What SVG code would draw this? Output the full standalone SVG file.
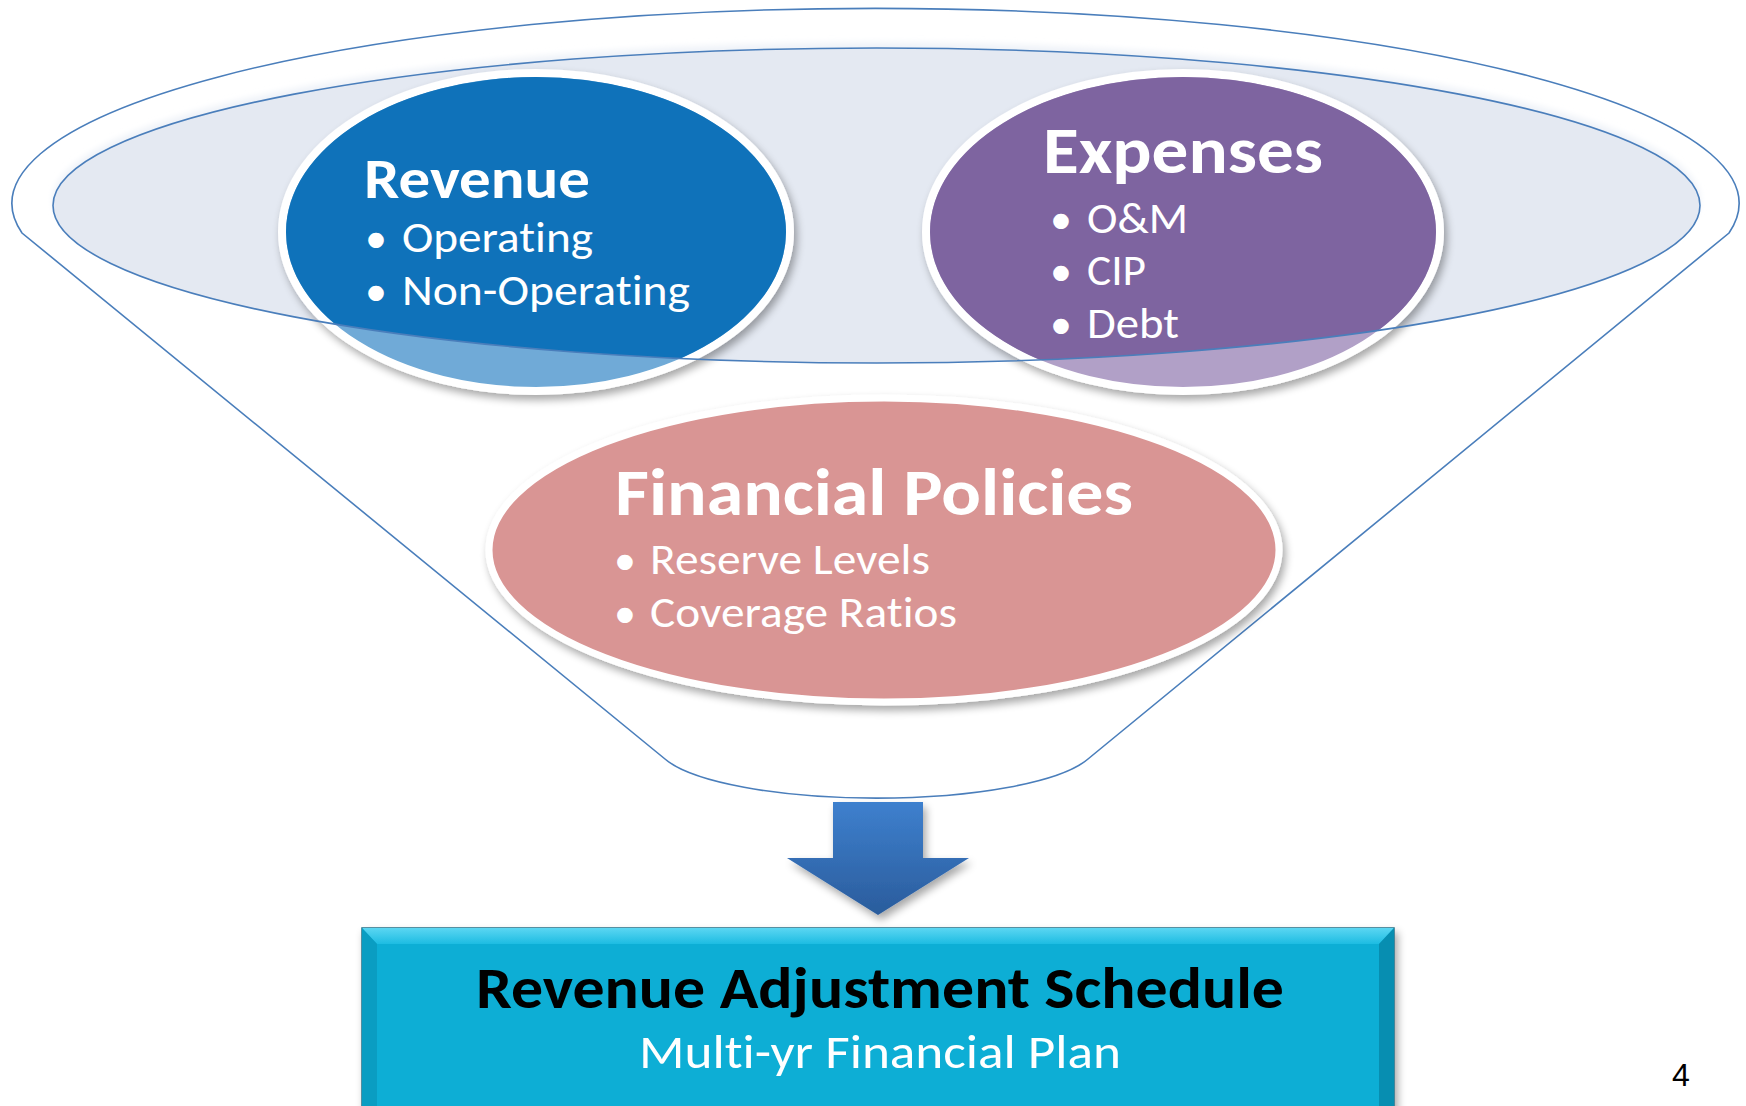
<svg xmlns="http://www.w3.org/2000/svg" width="1746" height="1106" viewBox="0 0 1746 1106">
  <style>
    text { font-variant-ligatures: none; font-feature-settings: "liga" 0, "dlig" 0; }
    .funnel { fill: none; stroke: #4A7EBB; stroke-width: 1.6; }
    .ring { stroke: #FFFFFF; stroke-width: 8; }
    .title { font-family: Carlito, Lato, "Liberation Sans", sans-serif; font-weight: 700; fill: #FFFFFF; }
    .item { font-family: Carlito, Lato, "Liberation Sans", sans-serif; font-weight: 400; fill: #FFFFFF; font-size: 43px; }
    .dot { font-family: Carlito, Lato, "Liberation Sans", sans-serif; font-weight: 400; fill: #FFFFFF; font-size: 44px; }
    .boxTitle { font-family: Carlito, Lato, "Liberation Sans", sans-serif; font-weight: 700; fill: #000000; font-size: 58px; }
    .boxSub { font-family: Carlito, Lato, "Liberation Sans", sans-serif; font-weight: 400; fill: #FFFFFF; font-size: 48px; }
    .page { font-family: "Liberation Sans", Arial, sans-serif; font-size: 32px; fill: #000000; }
  </style>
  <defs>
    <filter id="shadow" x="-10%" y="-10%" width="125%" height="130%">
      <feGaussianBlur in="SourceAlpha" stdDeviation="4"/>
      <feOffset dx="3" dy="5" result="blur"/>
      <feComponentTransfer><feFuncA type="linear" slope="0.35"/></feComponentTransfer>
      <feMerge><feMergeNode/><feMergeNode in="SourceGraphic"/></feMerge>
    </filter>
    <filter id="soft" x="-5%" y="-20%" width="110%" height="140%">
      <feGaussianBlur stdDeviation="3"/>
    </filter>
    <clipPath id="mouth">
      <ellipse cx="876.5" cy="205.5" rx="823.5" ry="157.5"/>
    </clipPath>
    <linearGradient id="arrowFill" x1="0" y1="0" x2="0" y2="1">
      <stop offset="0" stop-color="#3E80CE"/>
      <stop offset="1" stop-color="#2A5C9C"/>
    </linearGradient>
    <linearGradient id="bevelTop" x1="0" y1="0" x2="0" y2="1">
      <stop offset="0" stop-color="#5BD6F2"/>
      <stop offset="1" stop-color="#1DBCE2"/>
    </linearGradient>
  </defs>

  <rect width="1746" height="1106" fill="#FFFFFF"/>

  <!-- funnel body: rim arc, tapered sides and the spout -->
  <g id="funnel">
    <path class="funnel" d="M 665,759 L 22,233 A 863.5 195 0 1 1 1729,233 L 1088,759 A 220 54 0 0 1 665,759 Z"/>
    <ellipse cx="876.5" cy="200" rx="823.5" ry="157.5" fill="#EEF2F8" filter="url(#soft)"/>
    <ellipse cx="876.5" cy="205.5" rx="823.5" ry="157.5" fill="#E4E9F2"/>
  </g>

  <!-- Revenue -->
  <g id="revenue">
    <ellipse class="ring" cx="536" cy="232" rx="254" ry="159" fill="#6FAAD7" filter="url(#shadow)"/>
    <ellipse cx="536" cy="232" rx="250" ry="155" fill="#0F72BA" clip-path="url(#mouth)"/>
    <text class="title" x="364" y="198" font-size="57" textLength="226" lengthAdjust="spacingAndGlyphs">Revenue</text>
    <text class="dot" x="365" y="253">•</text>
    <text class="item" x="402" y="252" textLength="191" lengthAdjust="spacingAndGlyphs">Operating</text>
    <text class="dot" x="365" y="306">•</text>
    <text class="item" x="402" y="305" textLength="288" lengthAdjust="spacingAndGlyphs">Non-Operating</text>
  </g>

  <!-- Expenses -->
  <g id="expenses">
    <ellipse class="ring" cx="1183" cy="232" rx="257" ry="159" fill="#B1A0C7" filter="url(#shadow)"/>
    <ellipse cx="1183" cy="232" rx="253" ry="155" fill="#7E64A0" clip-path="url(#mouth)"/>
    <text class="title" x="1043" y="173" font-size="67" textLength="280" lengthAdjust="spacingAndGlyphs">Expenses</text>
    <text class="dot" x="1050" y="234">•</text>
    <text class="item" x="1087" y="233" textLength="101" lengthAdjust="spacingAndGlyphs">O&amp;M</text>
    <text class="dot" x="1050" y="286">•</text>
    <text class="item" x="1087" y="285" textLength="59" lengthAdjust="spacingAndGlyphs">CIP</text>
    <text class="dot" x="1050" y="339">•</text>
    <text class="item" x="1087" y="338" textLength="92" lengthAdjust="spacingAndGlyphs">Debt</text>
  </g>

  <!-- rim line of the funnel mouth, drawn over the two circles -->
  <g id="rim">
    <ellipse class="funnel" cx="876.5" cy="205.5" rx="823.5" ry="157.5"/>
  </g>

  <!-- Financial Policies -->
  <g id="financial-policies">
    <ellipse cx="884" cy="550" rx="395" ry="152" fill="#D99594" stroke="#FFFFFF" stroke-width="7" filter="url(#shadow)"/>
    <text class="title" x="615" y="515" font-size="67" textLength="518" lengthAdjust="spacingAndGlyphs">Financial Policies</text>
    <text class="dot" x="614" y="575">•</text>
    <text class="item" x="650" y="574" textLength="280" lengthAdjust="spacingAndGlyphs">Reserve Levels</text>
    <text class="dot" x="614" y="628">•</text>
    <text class="item" x="650" y="627" textLength="307" lengthAdjust="spacingAndGlyphs">Coverage Ratios</text>
  </g>

  <!-- flow arrow -->
  <g id="connectors">
    <polygon points="833,802 923,802 923,858 969,858 878,915 787,858 833,858" fill="url(#arrowFill)" filter="url(#shadow)"/>
  </g>

  <!-- Revenue Adjustment Schedule box -->
  <g id="schedule">
    <rect x="362" y="928" width="1032" height="190" fill="#07AED5" stroke="#1F6F86" stroke-width="1.5" filter="url(#shadow)"/>
    <polygon points="362,928 1394,928 1379,944 377,944" fill="url(#bevelTop)"/>
    <polygon points="362,928 377,944 377,1106 362,1106" fill="#0A9DC2"/>
    <polygon points="1394,928 1379,944 1379,1106 1394,1106" fill="#078EB1"/>
    <text class="boxTitle" x="476" y="1008" textLength="808" lengthAdjust="spacingAndGlyphs">Revenue Adjustment Schedule</text>
    <text class="boxSub" x="639" y="1068" textLength="482" lengthAdjust="spacingAndGlyphs">Multi-yr Financial Plan</text>
  </g>

  <text class="page" x="1672" y="1086">4</text>
</svg>
